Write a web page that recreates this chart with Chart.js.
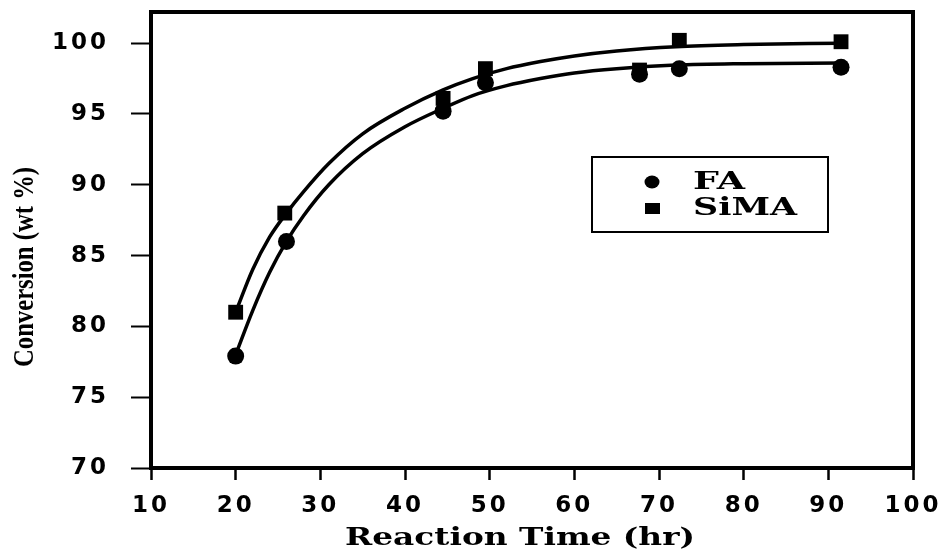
<!DOCTYPE html>
<html>
<head>
<meta charset="utf-8">
<script src="https://cdn.jsdelivr.net/npm/chart.js@4"></script>
<style>
  html, body { margin: 0; padding: 0; background: #fff; }
  #wrap { width: 950px; height: 551px; position: relative; }
</style>
</head>
<body>
<div id="wrap"><canvas id="conversionChart"></canvas></div>
<script>
// measured points
const timeFA = [20, 26, 44.5, 49.5, 67.7, 72.4, 91.5];
const convFA = [77.9, 86.0, 95.2, 97.2, 97.8, 98.2, 98.3];
const timeSiMA = [20, 25.8, 44.5, 49.5, 67.7, 72.4, 91.5];
const convSiMA = [81.0, 88.0, 96.1, 98.2, 98.1, 100.2, 100.1];

// fitted curves
const fitTime = [20, 22, 24, 26, 28, 31, 35, 40, 44.5, 48, 52, 56, 60, 65, 72, 80, 91.5];
const fitFA = [78.0, 81.1, 83.8, 86.0, 87.8, 90.0, 92.2, 94.1, 95.4, 96.3, 97.0, 97.5, 97.9, 98.2, 98.45, 98.55, 98.6];
const fitSiMA = [81.0, 84.0, 86.3, 88.0, 89.5, 91.5, 93.6, 95.4, 96.7, 97.5, 98.2, 98.7, 99.1, 99.45, 99.75, 99.9, 100.0];

const xTicks = [10, 20, 30, 40, 50, 60, 70, 80, 90, 100];
const yTicks = [70, 75, 80, 85, 90, 95, 100];

function toXY(xs, ys) {
    return xs.map((x, i) => ({x: x, y: ys[i]}));
}

// text squeezed or stretched to a given width (the scan uses odd faces)
function fitText(ctx, text, cx, cy, width, font, angle) {
    ctx.save();
    ctx.font = font;
    ctx.letterSpacing = '0px';
    ctx.fillStyle = '#000';
    ctx.textAlign = 'center';
    ctx.textBaseline = 'middle';
    const w = ctx.measureText(text).width;
    ctx.translate(cx, cy);
    if (angle) ctx.rotate(angle);
    ctx.scale(width / w, 1);
    ctx.fillText(text, 0, 0);
    ctx.restore();
}

const spacing = {
    id: 'spacing',
    beforeLayout(chart) { chart.ctx.letterSpacing = '3px'; },
    beforeDraw(chart) { chart.ctx.letterSpacing = '3px'; }
};

const frameAndLegend = {
    id: 'frameAndLegend',
    beforeDatasetsDraw(chart) {
        const {ctx, chartArea: a} = chart;
        ctx.save();
        ctx.strokeStyle = '#000';
        ctx.lineWidth = 4;
        ctx.strokeRect(a.left, a.top, a.right - a.left, a.bottom - a.top);
        ctx.restore();
    },
    afterDraw(chart) {
        const ctx = chart.ctx;
        fitText(ctx, 'Conversion (wt %)', 25, 267, 200, 'bold 30px "Liberation Serif"', -Math.PI / 2);
        fitText(ctx, 'Reaction Time (hr)', 520, 539, 350, 'bold 24px "DejaVu Serif"');

        // legend box
        const bx = 592, by = 157, bw = 236, bh = 75;
        ctx.save();
        ctx.strokeStyle = '#000';
        ctx.lineWidth = 2;
        ctx.strokeRect(bx, by, bw, bh);
        ctx.fillStyle = '#000';
        ctx.beginPath();
        ctx.ellipse(bx + 60, by + 25, 7.5, 6.5, 0, 0, Math.PI * 2);
        ctx.fill();
        ctx.fillRect(bx + 53, by + 46, 15, 11);
        ctx.restore();
        fitText(ctx, 'FA', 719, 183, 52, 'bold 24px "DejaVu Serif"');
        fitText(ctx, 'SiMA', 745, 209, 104, 'bold 24px "DejaVu Serif"');
    }
};

const ctx = document.getElementById('conversionChart').getContext('2d');
const conversionChart = new Chart(ctx, {
    type: 'scatter',
    data: {
        datasets: [{
            label: 'FA fit',
            data: toXY(fitTime, fitFA),
            showLine: true,
            borderColor: '#000',
            borderWidth: 3.5,
            pointRadius: 0,
            cubicInterpolationMode: 'monotone'
        }, {
            label: 'SiMA fit',
            data: toXY(fitTime, fitSiMA),
            showLine: true,
            borderColor: '#000',
            borderWidth: 3.5,
            pointRadius: 0,
            cubicInterpolationMode: 'monotone'
        }, {
            label: 'FA',
            data: toXY(timeFA, convFA),
            pointStyle: 'circle',
            pointRadius: 8.5,
            backgroundColor: '#000',
            borderColor: '#000',
            borderWidth: 0
        }, {
            label: 'SiMA',
            data: toXY(timeSiMA, convSiMA),
            pointStyle: 'rect',
            pointRadius: 10.5,
            backgroundColor: '#000',
            borderColor: '#000',
            borderWidth: 0
        }]
    },
    options: {
        responsive: true,
        maintainAspectRatio: false,
        animation: false,
        layout: { padding: { top: 12, right: 37, left: 0, bottom: 0 } },
        plugins: {
            legend: { display: false },
            tooltip: { enabled: false }
        },
        scales: {
            x: {
                type: 'linear',
                min: 10,
                max: 100,
                afterBuildTicks: (scale) => { scale.ticks = xTicks.map(v => ({value: v})); },
                afterFit: (scale) => {
                    scale.height = 83;
                    scale.paddingLeft = 0;
                    scale.paddingRight = 0;
                },
                border: { display: false },
                grid: {
                    drawOnChartArea: false,
                    drawTicks: true,
                    tickLength: 12,
                    tickColor: '#000',
                    tickWidth: 2.5
                },
                ticks: {
                    color: '#000',
                    padding: 12,
                    maxRotation: 0,
                    font: { family: 'DejaVu Sans', size: 23, weight: 'bold' }
                }
            },
            y: {
                min: 70,
                max: 102.2,
                afterBuildTicks: (scale) => { scale.ticks = yTicks.map(v => ({value: v})); },
                afterFit: (scale) => {
                    scale.width = 151;
                    scale.paddingTop = 0;
                    scale.paddingBottom = 0;
                },
                border: { display: false },
                grid: {
                    drawOnChartArea: false,
                    drawTicks: true,
                    tickLength: 20,
                    tickColor: '#000',
                    tickWidth: 2
                },
                ticks: {
                    color: '#000',
                    padding: 22,
                    font: { family: 'DejaVu Sans', size: 23, weight: 'bold' }
                }
            }
        }
    },
    plugins: [spacing, frameAndLegend]
});
</script>
</body>
</html>
